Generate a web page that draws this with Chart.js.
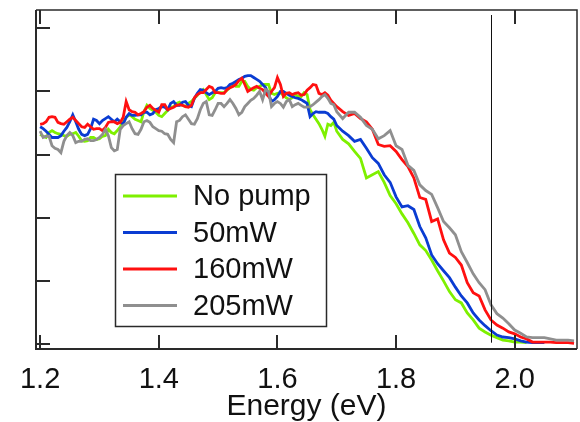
<!DOCTYPE html>
<html>
<head>
<meta charset="utf-8">
<script src="https://cdn.jsdelivr.net/npm/chart.js@4/dist/chart.umd.min.js"></script>
<style>
  html, body { margin: 0; padding: 0; background: #fff; }
  #wrap { width: 580px; height: 422px; }
</style>
</head>
<body>
<div id="wrap"><canvas id="absChart" width="580" height="422"></canvas></div>
<script>
/* Absorption edge vs pump power */

// 5 meV steps on the plateau, 10 meV steps across the edge
const energy = [
  1.200, 1.205, 1.210, 1.215, 1.220, 1.225, 1.230, 1.235, 1.240, 1.245,
  1.250, 1.255, 1.260, 1.265, 1.270, 1.275, 1.280, 1.285, 1.290, 1.295,
  1.300, 1.305, 1.310, 1.315, 1.320, 1.325, 1.330, 1.335, 1.340, 1.345,
  1.350, 1.355, 1.360, 1.365, 1.370, 1.375, 1.380, 1.385, 1.390, 1.395,
  1.400, 1.405, 1.410, 1.415, 1.420, 1.425, 1.430, 1.435, 1.440, 1.445,
  1.450, 1.455, 1.460, 1.465, 1.470, 1.475, 1.480, 1.485, 1.490, 1.495,
  1.500, 1.505, 1.510, 1.515, 1.520, 1.525, 1.530, 1.535, 1.540, 1.545,
  1.550, 1.555, 1.560, 1.565, 1.570, 1.575, 1.580, 1.585, 1.590, 1.595,
  1.600, 1.605, 1.610, 1.615, 1.620, 1.625, 1.630, 1.635, 1.640, 1.645,
  1.650, 1.655, 1.660, 1.665, 1.670, 1.675, 1.680, 1.685, 1.690, 1.695,
  1.70, 1.71, 1.72, 1.73, 1.74, 1.75, 1.76, 1.77, 1.78, 1.79,
  1.80, 1.81, 1.82, 1.83, 1.84, 1.85, 1.86, 1.87, 1.88, 1.89,
  1.90, 1.91, 1.92, 1.93, 1.94, 1.95, 1.96, 1.97, 1.98, 1.99,
  2.00, 2.01, 2.02, 2.03, 2.04, 2.05, 2.06, 2.07, 2.08, 2.09, 2.10
];

const noPump = [
  3.32, 3.29, 3.27, 3.35, 3.38, 3.35, 3.33, 3.32, 3.30, 3.29,
  3.32, 3.33, 3.35, 3.29, 3.22, 3.21, 3.22, 3.27, 3.27, 3.24,
  3.25, 3.29, 3.30, 3.40, 3.35, 3.33, 3.38, 3.44, 3.52, 3.59,
  3.63, 3.60, 3.56, 3.54, 3.52, 3.68, 3.78, 3.73, 3.70, 3.67,
  3.62, 3.60, 3.65, 3.70, 3.75, 3.76, 3.81, 3.83, 3.78, 3.76,
  3.81, 3.84, 3.89, 3.94, 4.00, 4.03, 3.95, 3.87, 3.90, 3.98,
  3.98, 3.98, 3.98, 4.02, 4.06, 4.11, 4.08, 4.08, 4.16, 4.16,
  4.08, 4.03, 4.02, 4.06, 4.08, 4.11, 4.11, 4.11, 3.97, 3.95,
  3.97, 3.98, 3.94, 3.90, 3.87, 3.90, 3.95, 3.92, 3.92, 3.98,
  3.95, 3.71, 3.63, 3.56, 3.49, 3.40, 3.29, 3.48, 3.46, 3.51,
  3.37, 3.24, 3.17, 3.05, 2.94, 2.63, 2.68, 2.73, 2.56, 2.35,
  2.22, 2.06, 1.92, 1.75, 1.57, 1.48, 1.33, 1.16, 1.00, 0.83,
  0.70, 0.65, 0.49, 0.38, 0.25, 0.19, 0.14, 0.10, 0.06, 0.05,
  0.03, 0.03, 0.02
];

const pump50 = [
  3.44, 3.41, 3.37, 3.32, 3.27, 3.27, 3.27, 3.30, 3.37, 3.43,
  3.52, 3.63, 3.52, 3.40, 3.32, 3.30, 3.32, 3.41, 3.56, 3.54,
  3.49, 3.54, 3.57, 3.60, 3.56, 3.52, 3.56, 3.52, 3.48, 3.59,
  3.65, 3.62, 3.62, 3.63, 3.63, 3.67, 3.67, 3.63, 3.65, 3.71,
  3.73, 3.76, 3.75, 3.71, 3.81, 3.84, 3.78, 3.78, 3.83, 3.84,
  3.78, 3.76, 3.89, 3.97, 4.03, 4.02, 3.98, 3.95, 3.98, 4.00,
  4.05, 4.06, 4.05, 4.06, 4.11, 4.13, 4.16, 4.19, 4.21, 4.24,
  4.25, 4.25, 4.22, 4.19, 4.16, 4.11, 4.06, 3.95, 3.84, 3.87,
  3.92, 4.00, 4.00, 3.97, 3.94, 3.92, 3.90, 3.89, 3.87, 3.84,
  3.81, 3.60, 3.65, 3.68, 3.67, 3.67, 3.67, 3.65, 3.60, 3.56,
  3.46, 3.37, 3.30, 3.21, 3.24, 3.10, 2.95, 2.86, 2.68, 2.56,
  2.33, 2.17, 2.19, 2.13, 1.86, 1.68, 1.41, 1.27, 1.16, 1.05,
  0.90, 0.76, 0.65, 0.49, 0.38, 0.29, 0.21, 0.14, 0.11, 0.10,
  0.08, 0.05, 0.03, 0.02, 0.02, 0.02
];

const pump160 = [
  3.48, 3.49, 3.52, 3.59, 3.60, 3.59, 3.51, 3.49, 3.48, 3.52,
  3.56, 3.59, 3.54, 3.49, 3.44, 3.43, 3.48, 3.44, 3.40, 3.41,
  3.41, 3.38, 3.43, 3.51, 3.52, 3.52, 3.49, 3.51, 3.59, 3.84,
  3.71, 3.68, 3.67, 3.63, 3.65, 3.68, 3.75, 3.78, 3.73, 3.70,
  3.67, 3.79, 3.79, 3.71, 3.73, 3.75, 3.78, 3.79, 3.78, 3.76,
  3.75, 3.78, 3.90, 3.95, 3.98, 3.98, 4.03, 4.08, 4.06, 3.98,
  3.98, 3.97, 3.97, 4.03, 4.06, 4.08, 4.11, 4.17, 4.21, 4.11,
  4.00, 4.03, 4.06, 4.08, 4.05, 4.03, 3.97, 3.92, 4.00, 4.06,
  4.22, 4.11, 3.92, 3.97, 3.98, 3.95, 3.97, 3.98, 3.94, 3.95,
  4.02, 4.06, 4.11, 4.10, 3.97, 3.95, 3.98, 3.94, 3.86, 3.81,
  3.76, 3.68, 3.62, 3.65, 3.57, 3.52, 3.40, 3.16, 3.13, 3.14,
  3.05, 2.92, 2.81, 2.63, 2.32, 2.29, 1.94, 1.98, 1.65, 1.44,
  1.37, 1.25, 0.97, 0.81, 0.76, 0.54, 0.38, 0.30, 0.25, 0.19,
  0.16, 0.11, 0.08, 0.03, 0.03, 0.03, 0.03, 0.02, 0.02, 0.02, 0.01
];

const pump205 = [
  3.37, 3.27, 3.29, 3.29, 3.14, 3.10, 3.08, 3.03, 3.21, 3.30,
  3.35, 3.30, 3.19, 3.21, 3.21, 3.24, 3.25, 3.22, 3.22, 3.24,
  3.27, 3.32, 3.40, 3.30, 3.11, 3.06, 3.08, 3.40, 3.46, 3.49,
  3.52, 3.41, 3.33, 3.32, 3.40, 3.52, 3.54, 3.51, 3.44, 3.41,
  3.38, 3.37, 3.33, 3.32, 3.24, 3.19, 3.52, 3.54, 3.60, 3.63,
  3.56, 3.49, 3.48, 3.57, 3.71, 3.81, 3.84, 3.63, 3.62, 3.71,
  3.81, 3.81, 3.76, 3.81, 3.87, 3.81, 3.73, 3.63, 3.67, 3.76,
  3.81, 3.86, 3.89, 3.94, 4.00, 3.87, 4.03, 4.00, 3.76, 3.81,
  3.84, 3.81, 3.75, 3.84, 3.87, 3.76, 3.79, 3.81, 3.78, 3.75,
  3.75, 3.76, 3.79, 3.83, 3.87, 3.92, 3.95, 3.89, 3.81, 3.79,
  3.68, 3.57, 3.67, 3.67, 3.59, 3.46, 3.40, 3.25, 3.30, 3.38,
  3.14, 3.08, 2.83, 2.75, 2.52, 2.43, 2.37, 2.16, 1.94, 1.84,
  1.73, 1.46, 1.29, 1.11, 0.97, 0.86, 0.62, 0.48, 0.41, 0.32,
  0.22, 0.17, 0.11, 0.10, 0.10, 0.10, 0.08, 0.06, 0.06, 0.06, 0.05
];

const seriesLabels = ['No pump', '50mW', '160mW', '205mW'];
const seriesColors = ['#7ef000', '#0a3cd2', '#ff1010', '#8f8f8f'];
const xTicks = [1.2, 1.4, 1.6, 1.8, 2.0];
const yTicks = [0, 1, 2, 3, 4, 5];
const markerEnergy = 1.96;

const FONT = '"Liberation Sans", Arial, sans-serif';
const AXIS = '#2a2a2a';

function toPoints(values) {
  return values.map((v, i) => ({ x: energy[i], y: v }));
}

const seriesValues = [noPump, pump50, pump160, pump205];

/* frame, inward tick marks and the marker line */
const framePlugin = {
  id: 'frame',
  afterDatasetsDraw(chart) {
    const { ctx, chartArea: a, scales: { x, y } } = chart;
    const tl = 14;
    ctx.save();
    ctx.lineCap = 'butt';

    // marker line
    const mx = Math.round(x.getPixelForValue(markerEnergy)) + 0.5;
    ctx.lineWidth = 1;
    ctx.strokeStyle = '#111';
    ctx.beginPath();
    ctx.moveTo(mx, a.top + 5);
    ctx.lineTo(mx, y.getPixelForValue(0.02));
    ctx.stroke();

    ctx.strokeStyle = AXIS;
    ctx.lineWidth = 2;
    xTicks.forEach(t => {
      const px = Math.round(x.getPixelForValue(t));
      ctx.beginPath();
      ctx.moveTo(px, a.bottom); ctx.lineTo(px, a.bottom - tl);
      ctx.moveTo(px, a.top); ctx.lineTo(px, a.top + tl);
      ctx.stroke();
    });
    yTicks.forEach(t => {
      const py = Math.round(y.getPixelForValue(t));
      ctx.beginPath();
      ctx.moveTo(a.left, py); ctx.lineTo(a.left + tl, py);
      ctx.stroke();
    });

    // box
    ctx.lineWidth = 2;
    ctx.beginPath();
    ctx.moveTo(a.left, a.top); ctx.lineTo(a.left, a.bottom); ctx.lineTo(a.right, a.bottom);
    ctx.stroke();
    ctx.lineWidth = 1.5;
    ctx.beginPath();
    ctx.moveTo(a.left, a.top); ctx.lineTo(a.right, a.top); ctx.lineTo(a.right, a.bottom);
    ctx.stroke();
    ctx.restore();
  }
};

/* boxed legend inside the plot area */
const legendPlugin = {
  id: 'boxLegend',
  afterDraw(chart) {
    const { ctx, chartArea: a } = chart;
    const bx = a.left + 79, by = a.top + 164, bw = 211, bh = 152;
    ctx.save();
    ctx.fillStyle = '#fff';
    ctx.fillRect(bx, by, bw, bh);
    ctx.strokeStyle = AXIS;
    ctx.lineWidth = 1.5;
    ctx.strokeRect(bx + 0.5, by + 0.5, bw, bh);
    ctx.font = '29px ' + FONT;
    ctx.textBaseline = 'middle';
    seriesLabels.forEach((lab, i) => {
      const ry = by + 22 + i * 36.5;
      ctx.strokeStyle = seriesColors[i];
      ctx.lineWidth = 3;
      ctx.beginPath();
      ctx.moveTo(bx + 8, ry); ctx.lineTo(bx + 62, ry);
      ctx.stroke();
      ctx.fillStyle = '#111';
      ctx.fillText(lab, bx + 78, ry + 1);
    });
    ctx.restore();
  }
};

new Chart(document.getElementById('absChart'), {
  type: 'line',
  data: {
    datasets: seriesValues.map((vals, i) => ({
      label: seriesLabels[i],
      data: toPoints(vals),
      borderColor: seriesColors[i],
      borderWidth: 2.8,
      pointRadius: 0,
      tension: 0,
      fill: false,
      order: 4 - i
    }))
  },
  options: {
    responsive: false,
    animation: false,
    devicePixelRatio: 1,
    layout: { padding: { top: 10, right: 3, left: 0, bottom: 0 } },
    plugins: { legend: { display: false }, tooltip: { enabled: false } },
    scales: {
      x: {
        type: 'linear',
        min: 1.193, max: 2.105,
        afterBuildTicks: s => { s.ticks = xTicks.map(v => ({ value: v })); },
        afterFit: s => { s.height = 73; },
        grid: { display: false, drawTicks: false },
        border: { display: false },
        ticks: {
          padding: 14,
          color: '#111',
          font: { family: FONT, size: 29 },
          maxRotation: 0,
          callback: v => v.toFixed(1)
        },
        title: {
          display: true,
          text: 'Energy (eV)',
          color: '#111',
          font: { family: FONT, size: 30, lineHeight: 1 },
          padding: { top: 0, bottom: 0 }
        }
      },
      y: {
        min: -0.08, max: 5.29,
        afterBuildTicks: s => { s.ticks = yTicks.map(v => ({ value: v })); },
        afterFit: s => { s.width = 36; },
        grid: { display: false, drawTicks: false },
        border: { display: false },
        ticks: { display: false }
      }
    }
  },
  plugins: [framePlugin, legendPlugin]
});
</script>
</body>
</html>
